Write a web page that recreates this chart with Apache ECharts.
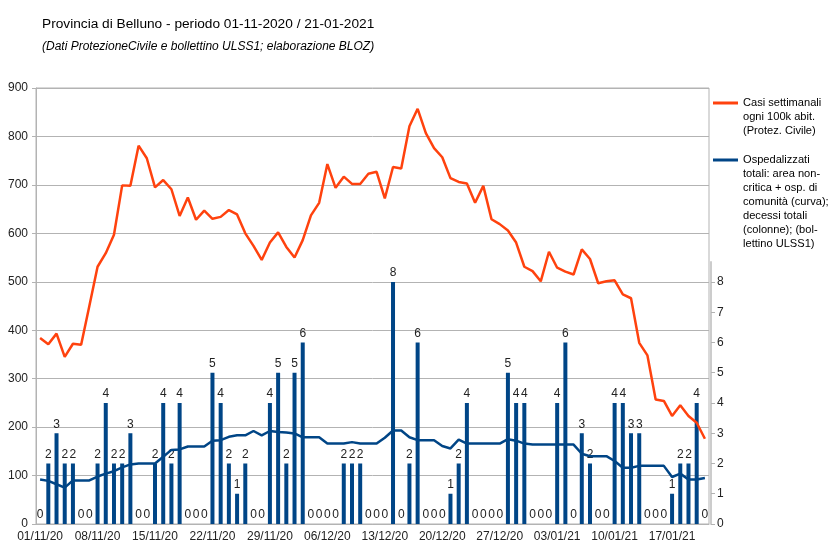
<!DOCTYPE html>
<html>
<head>
<meta charset="utf-8">
<script src="https://cdn.jsdelivr.net/npm/echarts@6/dist/echarts.min.js"></script>
<style>
html, body { margin: 0; padding: 0; background: #fff; }
#chart { width: 835px; height: 555px; }
</style>
</head>
<body>
<div id="chart"></div>
<script>
// dati giornalieri dal 01/11/2020 al 21/01/2021 (82 giorni)
var giorni = [];
for (var i = 0; i < 82; i++) {
  var d = new Date(Date.UTC(2020, 10, 1 + i));
  var dd = ('0' + d.getUTCDate()).slice(-2);
  var mm = ('0' + (d.getUTCMonth() + 1)).slice(-2);
  var yy = String(d.getUTCFullYear()).slice(-2);
  giorni.push(dd + '/' + mm + '/' + yy);
}

// casi settimanali ogni 100k abitanti (Protezione Civile)
var casi = [
  384, 371, 393, 345, 372, 370, 450, 531, 559, 597,
  699, 698, 781, 755, 695, 710, 691, 636, 674, 628,
  647, 630, 634, 648, 639, 600, 574, 545, 581, 602,
  572, 550, 586, 637, 663, 743, 694, 717, 702, 702,
  723, 727, 672, 737, 734, 821, 857, 807, 776, 757,
  714, 706, 703, 663, 698, 629, 619, 606, 581, 531,
  522, 501, 562, 529, 521, 515, 567, 547, 497, 501,
  503, 474, 466, 374, 348, 257, 254, 223, 245, 223,
  209, 176
];

// ospedalizzati totali (curva)
var ospedalizzati = [
  92, 89, 82, 75, 90, 90, 90, 98, 104, 109,
  117, 123, 125, 125, 125, 139, 153, 154, 160, 160,
  160, 172, 173, 180, 183, 183, 192, 183, 192, 190,
  189, 187, 179, 179, 179, 166, 166, 166, 169, 166,
  166, 166, 178, 193, 193, 179, 173, 173, 173, 161,
  156, 174, 166, 166, 166, 166, 166, 175, 172, 166,
  164, 164, 164, 164, 164, 164, 145, 140, 140, 140,
  130, 116, 116, 120, 120, 120, 120, 97, 104, 92,
  92, 95
];

// decessi giornalieri (colonne)
var decessi = [
  0, 2, 3, 2, 2, 0, 0, 2, 4, 2,
  2, 3, 0, 0, 2, 4, 2, 4, 0, 0,
  0, 5, 4, 2, 1, 2, 0, 0, 4, 5,
  2, 5, 6, 0, 0, 0, 0, 2, 2, 2,
  0, 0, 0, 8, 0, 2, 6, 0, 0, 0,
  1, 2, 4, 0, 0, 0, 0, 5, 4, 4,
  0, 0, 0, 4, 6, 0, 3, 2, 0, 0,
  4, 4, 3, 3, 0, 0, 0, 1, 2, 2,
  4, 0
];

var nomeCasi = 'Casi settimanali\nogni 100k abit.\n(Protez. Civile)';
var nomeOsp = 'Ospedalizzati\ntotali: area non-\ncritica + osp. di\ncomunità (curva);\ndecessi totali\n(colonne); (bol-\nlettino ULSS1)';

var FONT = 'Liberation Sans';
var arancio = '#ff420e';
var blu = '#004586';
var grigio = '#b3b3b3';

var chart = echarts.init(document.getElementById('chart'));

// sposta il testo della legenda in modo che la prima riga sia allineata all'icona
function primaRiga(name) {
  var n = name.split('\n').length;
  return new Array(n).join('\n') + name;
}

var legendaText = { fontFamily: FONT, fontSize: 11.1, lineHeight: 14, color: '#000' };

var option = {
  backgroundColor: '#fff',
  animation: false,
  textStyle: { fontFamily: FONT },
  title: {
    text: 'Provincia di Belluno - periodo 01-11-2020 / 21-01-2021',
    subtext: '(Dati ProtezioneCivile e bollettino ULSS1; elaborazione BLOZ)',
    left: 37,
    top: 12,
    itemGap: 10,
    textStyle: { fontFamily: FONT, fontSize: 13.7, fontWeight: 'normal', color: '#000' },
    subtextStyle: { fontFamily: FONT, fontSize: 12, fontStyle: 'italic', color: '#000' }
  },
  legend: [{
    data: [nomeCasi],
    left: 713,
    top: 68,
    padding: 0,
    icon: 'rect',
    itemWidth: 25,
    itemHeight: 3,
    formatter: primaRiga,
    textStyle: legendaText
  }, {
    data: [nomeOsp],
    left: 713,
    top: 69,
    padding: 0,
    icon: 'rect',
    itemWidth: 25,
    itemHeight: 3,
    formatter: primaRiga,
    textStyle: legendaText
  }],
  grid: [
    { left: 36, right: 126, top: 88, bottom: 31, show: true, borderColor: grigio, borderWidth: 1 },
    { left: 36, right: 126, top: 262, bottom: 31 }
  ],
  xAxis: [{
    type: 'category',
    gridIndex: 0,
    data: giorni,
    boundaryGap: true,
    axisLine: { lineStyle: { color: grigio, width: 1 } },
    axisTick: { interval: 6, length: 5, lineStyle: { color: grigio } },
    axisLabel: { interval: 6, fontSize: 12, color: '#222', margin: 7, fontFamily: FONT }
  }, {
    type: 'category',
    gridIndex: 1,
    data: giorni,
    boundaryGap: true,
    show: false
  }],
  yAxis: [{
    type: 'value',
    gridIndex: 0,
    min: 0,
    max: 900,
    interval: 100,
    axisLine: { show: true, lineStyle: { color: grigio } },
    axisTick: { show: true, length: 4, lineStyle: { color: grigio } },
    splitLine: { lineStyle: { color: grigio, width: 1 } },
    axisLabel: { fontSize: 12, color: '#222', margin: 8, fontFamily: FONT }
  }, {
    type: 'value',
    gridIndex: 1,
    position: 'right',
    min: 0,
    max: 8.66,
    interval: 1,
    offset: 2,
    axisLine: { show: true, lineStyle: { color: '#cccccc', width: 2 } },
    axisTick: { show: true, length: 4, lineStyle: { color: grigio } },
    splitLine: { show: false },
    axisLabel: {
      fontSize: 12, color: '#222', margin: 6, fontFamily: FONT,
      showMaxLabel: false,
      formatter: function (v) { return Number.isInteger(v) ? String(v) : ''; }
    }
  }],
  series: [{
    name: 'decessi',
    type: 'bar',
    xAxisIndex: 1,
    yAxisIndex: 1,
    barWidth: 4,
    itemStyle: { color: blu },
    label: {
      show: true,
      position: 'top',
      distance: 3,
      fontSize: 12,
      color: '#222',
      fontFamily: FONT
    },
    data: decessi
  }, {
    name: nomeOsp,
    type: 'line',
    xAxisIndex: 0,
    yAxisIndex: 0,
    symbol: 'none',
    itemStyle: { color: blu },
    lineStyle: { color: blu, width: 2.5 },
    data: ospedalizzati
  }, {
    name: nomeCasi,
    type: 'line',
    xAxisIndex: 0,
    yAxisIndex: 0,
    symbol: 'none',
    itemStyle: { color: arancio },
    lineStyle: { color: arancio, width: 2.5 },
    data: casi
  }]
};

chart.setOption(option);
</script>
</body>
</html>
